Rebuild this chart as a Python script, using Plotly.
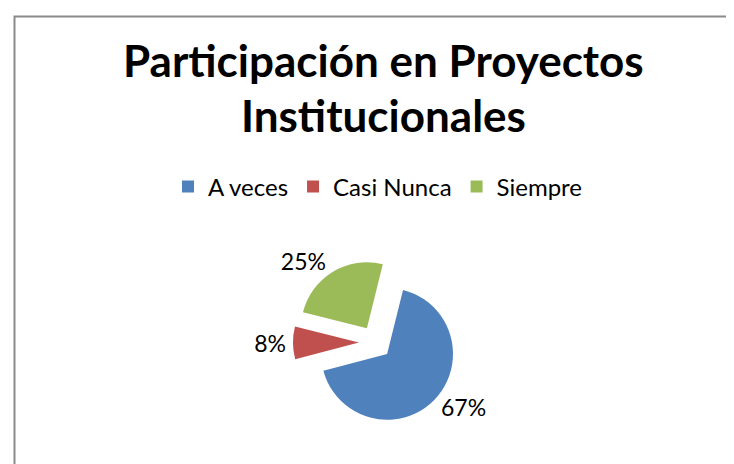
import plotly.graph_objects as go

categories = ["A veces", "Casi Nunca", "Siempre"]
values = [67, 8, 25]
colors = ["#4F81BD", "#C0504D", "#9BBB59"]
title_lines = ["Participación en Proyectos", "Institucionales"]

W, H = 734, 464
FONT = "Lato, Carlito, Calibri, sans-serif"

fig = go.Figure()
fig.add_trace(go.Pie(
    labels=categories,
    values=values,
    marker=dict(colors=colors, line=dict(width=0)),
    sort=False,
    direction="clockwise",
    rotation=14,
    pull=[0.25, 0.25, 0.25],
    textinfo="percent",
    texttemplate="%{percent:.0%}",
    textposition="outside",
    textfont=dict(family=FONT, size=23, color="#000000"),
    domain=dict(x=[0.388, 0.613], y=[0.102, 0.457]),
    hoverinfo="label+percent",
))

annotations = []
for i, line in enumerate(title_lines):
    annotations.append(dict(
        text="<b>%s</b>" % line, xref="paper", yref="paper",
        x=375 / W, y=1 - (80 + 55 * i) / H, xanchor="center", yanchor="bottom",
        showarrow=False, font=dict(family=FONT, size=44, color="#000000"),
    ))

fig.update_layout(
    width=W, height=H,
    margin=dict(l=0, r=0, t=0, b=0),
    paper_bgcolor="white", plot_bgcolor="white",
    showlegend=True,
    legend=dict(orientation="h", x=370 / W, xanchor="center", y=1 - 179 / H, yanchor="middle",
                font=dict(family=FONT, size=24, color="#000000"), itemwidth=30,
                traceorder="normal"),
    annotations=annotations,
    shapes=[dict(type="rect", xref="paper", yref="paper",
                 x0=6.5 / W, x1=1.2, y0=-0.2, y1=1 - 8.5 / H,
                 line=dict(color="#8a8a8a", width=2), fillcolor="rgba(0,0,0,0)")],
)

fig.write_html("out.html")
